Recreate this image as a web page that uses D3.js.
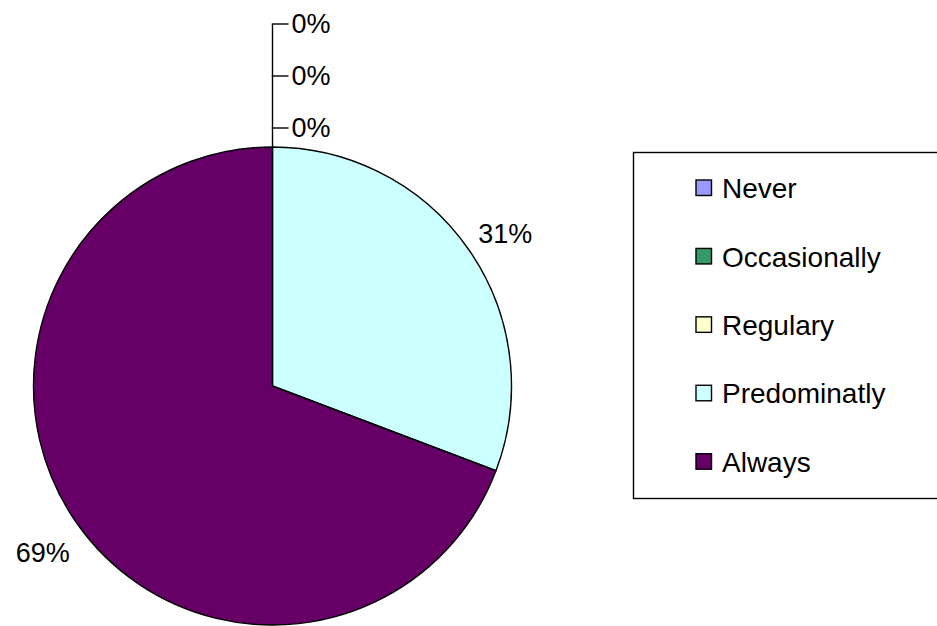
<!DOCTYPE html>
<html>
<head>
<meta charset="utf-8">
<script src="https://cdn.jsdelivr.net/npm/d3@7"></script>
<style>
  html, body { margin: 0; padding: 0; background: #fff; }
  svg { display: block; }
  text { font-family: "Liberation Sans", Arial, sans-serif; }
</style>
</head>
<body>
<svg id="chart" width="937" height="626"></svg>
<script>
const categories = ["Never", "Occasionally", "Regulary", "Predominatly", "Always"];
const values = [0, 0, 0, 4, 9];
const colors = ["#9999FF", "#339966", "#FFFFCC", "#CCFFFF", "#660066"];

const W = 937, H = 626;
const cx = 272.5, cy = 386, R = 239;
const fontSize = 27;
const legendFont = 28;

const svg = d3.select("#chart");
const total = d3.sum(values);
const fmt = v => Math.round(v / total * 100) + "%";

const pie = d3.pie().sort(null).value(d => d.value);
const data = categories.map((c, i) => ({ name: c, value: values[i], color: colors[i] }));
const arcs = pie(data);
const arc = d3.arc().innerRadius(0).outerRadius(R);

const g = svg.append("g").attr("transform", `translate(${cx},${cy})`);
g.selectAll("path.slice")
  .data(arcs.filter(a => a.data.value > 0))
  .join("path")
  .attr("class", "slice")
  .attr("d", arc)
  .attr("fill", d => d.data.color)
  .attr("stroke", "#000")
  .attr("stroke-width", 1.4)
  .attr("stroke-linejoin", "round");

// Labels for non-zero slices
const labelR = R + 42;
g.selectAll("text.pct")
  .data(arcs.filter(a => a.data.value > 0))
  .join("text")
  .attr("class", "pct")
  .attr("x", d => labelR * Math.sin((d.startAngle + d.endAngle) / 2) + 1.5)
  .attr("y", d => -labelR * Math.cos((d.startAngle + d.endAngle) / 2) + fontSize * 0.35 + 7)
  .attr("text-anchor", "middle")
  .attr("font-size", fontSize)
  .attr("fill", "#000")
  .text(d => fmt(d.data.value));

// Zero-value labels stacked above the top with leader lines
const zeros = arcs.filter(a => a.data.value === 0);
const zStep = 52, zFirst = 19, tickLen = 16;
const zY = (k) => -R - zFirst - k * zStep;
if (zeros.length) {
  const topY = zY(zeros.length - 1);
  g.append("line")
    .attr("x1", 0).attr("x2", 0)
    .attr("y1", -R).attr("y2", topY)
    .attr("stroke", "#000").attr("stroke-width", 1.4);
  zeros.forEach((d, k) => {
    const y = zY(zeros.length - 1 - k);
    g.append("line")
      .attr("x1", -0.7).attr("x2", tickLen)
      .attr("y1", y).attr("y2", y)
      .attr("stroke", "#000").attr("stroke-width", 1.4);
    g.append("text")
      .attr("x", tickLen + 3)
      .attr("y", y + fontSize * 0.35)
      .attr("font-size", fontSize)
      .attr("fill", "#000")
      .text(fmt(d.data.value));
  });
}

// Legend
const legX = 633.5, legY = 152.5, legW = 320, legH = 346;
svg.append("rect")
  .attr("x", legX).attr("y", legY)
  .attr("width", legW).attr("height", legH)
  .attr("fill", "#fff").attr("stroke", "#000").attr("stroke-width", 1.4);

const rowY = d3.scalePoint().domain(categories).range([188, 461.7]);
const leg = svg.append("g").selectAll("g")
  .data(data).join("g")
  .attr("transform", d => `translate(0,${rowY(d.name)})`);
leg.append("rect")
  .attr("x", 696).attr("y", -8)
  .attr("width", 15.5).attr("height", 15.5)
  .attr("fill", d => d.color)
  .attr("stroke", "#000").attr("stroke-width", 1.4);
leg.append("text")
  .attr("x", 722)
  .attr("y", legendFont * 0.36)
  .attr("font-size", legendFont)
  .attr("fill", "#000")
  .text(d => d.name);
</script>
</body>
</html>
